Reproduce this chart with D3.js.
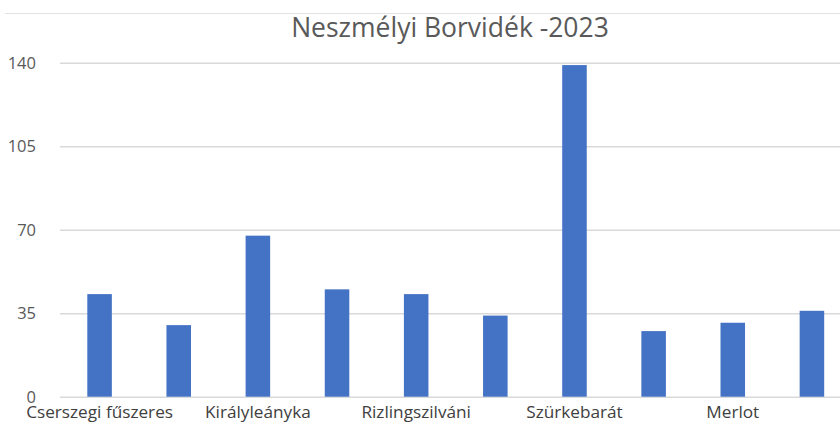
<!DOCTYPE html>
<html>
<head>
<meta charset="utf-8">
<script src="https://cdn.jsdelivr.net/npm/d3@7"></script>
<style>
  html, body { margin: 0; padding: 0; background: #fff; }
  svg { display: block; }
  text { font-family: "Open Sans", "Noto Sans", sans-serif; }
</style>
</head>
<body>
<svg id="chart" width="840" height="422"></svg>
<script>
// ---- data ----
const title = "Neszmélyi Borvidék -2023";
const categories = ["Cserszegi fűszeres", "Irsai Olivér", "Királyleányka", "Olaszrizling",
  "Rizlingszilváni", "Sauvignon blanc", "Szürkebarát", "Tramini", "Merlot", "Zweigelt"];
const values = [43, 30, 67.5, 45, 43, 34, 139, 27.5, 31, 36];
const shownLabels = ["Cserszegi fűszeres", "Királyleányka", "Rizlingszilváni", "Szürkebarát", "Merlot"];
const yTicks = [0, 35, 70, 105, 140];

// ---- layout ----
const svg = d3.select("#chart");
const plotLeft = 60, plotRight = 851.5, plotTop = 62.7, plotBottom = 396.7;

const x = d3.scaleBand().domain(categories).range([plotLeft, plotRight])
  .paddingInner(0.69).paddingOuter(0.345);
const y = d3.scaleLinear().domain([0, 140]).range([plotBottom, plotTop]);

// frame top border
svg.append("line").attr("x1", 5).attr("x2", 840).attr("y1", 13.5).attr("y2", 13.5)
  .attr("stroke", "#e3e3e3").attr("stroke-width", 1.2);

// title
svg.append("text").attr("x", 450).attr("y", 37)
  .attr("text-anchor", "middle").attr("fill", "#595959")
  .attr("font-size", 26.5).text(title);

// gridlines
const yAxis = d3.axisLeft(y).tickValues(yTicks).tickSize(-(840 - plotLeft)).tickFormat(d3.format("d"));
const gy = svg.append("g").attr("transform", `translate(${plotLeft},0)`).call(yAxis);
gy.select(".domain").remove();
gy.selectAll(".tick line").attr("stroke", "#d9d9d9").attr("stroke-width", 1.6);
gy.selectAll(".tick text").attr("x", -24).attr("dy", "0.35em")
  .attr("fill", "#595959").attr("font-size", 16.5)
  .attr("font-family", "'Open Sans', sans-serif");

// bars
svg.append("g").selectAll("rect").data(categories).join("rect")
  .attr("x", d => x(d))
  .attr("width", x.bandwidth())
  .attr("y", (d, i) => y(values[i]))
  .attr("height", (d, i) => y(0) - y(values[i]))
  .attr("fill", "#4472C4");

// x axis labels (every other category shown)
const xAxis = d3.axisBottom(x).tickSize(0).tickFormat(d => shownLabels.includes(d) ? d : "");
const gx = svg.append("g").attr("transform", `translate(0,${plotBottom})`).call(xAxis);
gx.select(".domain").remove();
gx.selectAll(".tick text").attr("y", 0).attr("dy", "21.5")
  .attr("fill", "#404040").attr("font-size", 17.2)
  .attr("font-family", "'Open Sans', sans-serif");
</script>
</body>
</html>
